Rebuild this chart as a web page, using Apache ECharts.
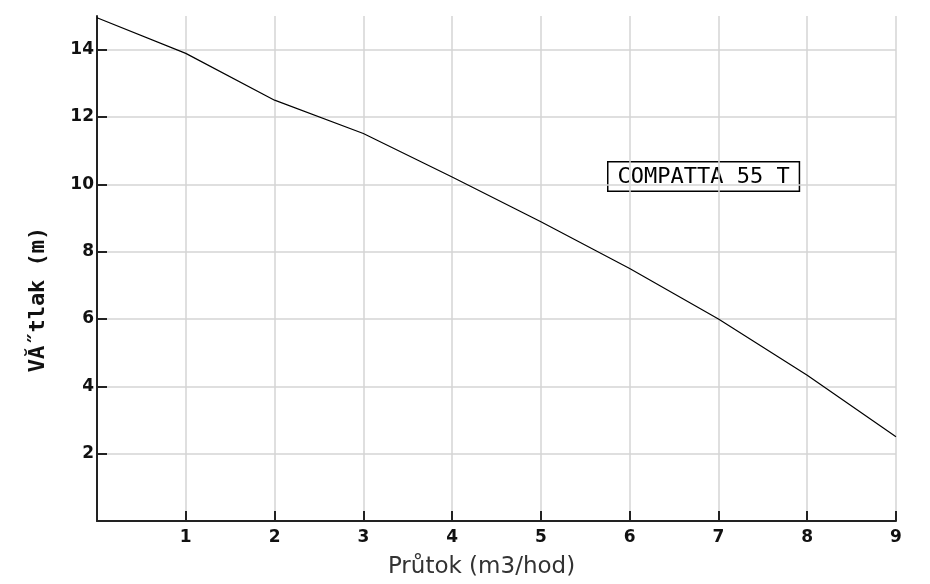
<!DOCTYPE html>
<html>
<head>
    <meta charset="utf-8">
    <title>COMPATTA 55 T</title>
    <script src="https://cdn.jsdelivr.net/npm/echarts@6/dist/echarts.min.js"></script>
    <style>
        html, body { margin: 0; padding: 0; background: #fff; }
    </style>
</head>
<body>
    <div id="main" style="width: 930px;height:584px;"></div>
    <script type="text/javascript">
        // flow (m3/h) and head (m)
        var flow = [0, 1, 2, 3, 4, 5, 6, 7, 8, 9];
        var head = [14.95, 13.89, 12.5, 11.51, 10.22, 8.89, 7.5, 6.0, 4.33, 2.5];
        var pumpName = 'COMPATTA 55 T';

        var myChart = echarts.init(document.getElementById('main'));

        var tickFont = {
            fontFamily: 'DejaVu Sans',
            fontWeight: 'bold',
            fontSize: 17,
            color: '#111'
        };

        option = {
            backgroundColor: '#fff',
            animation: false,
            grid: {
                left: 97,
                right: 34,
                top: 16,
                bottom: 63
            },
            xAxis: {
                type: 'value',
                min: 0,
                max: 9,
                interval: 1,
                name: 'Průtok (m3/hod)',
                nameLocation: 'middle',
                nameGap: 35,
                nameTextStyle: {
                    fontFamily: 'DejaVu Sans',
                    fontSize: 23,
                    color: '#333',
                    padding: [0, 30, 0, 0]
                },
                axisLine: { lineStyle: { color: '#222', width: 2 } },
                axisTick: { inside: true, length: 10, lineStyle: { color: '#222', width: 2 } },
                axisLabel: Object.assign({
                    margin: 8,
                    formatter: function (v) { return v === 0 ? '' : v; }
                }, tickFont),
                splitLine: { lineStyle: { color: '#d4d4d4', width: 1.5 } }
            },
            yAxis: {
                type: 'value',
                min: 0,
                max: 15,
                interval: 2,
                name: 'VĂ˝tlak (m)',
                nameLocation: 'middle',
                nameGap: 48,
                nameRotate: 90,
                nameTextStyle: {
                    fontFamily: 'DejaVu Sans Mono',
                    fontWeight: 'bold',
                    fontSize: 22,
                    color: '#111',
                    padding: [0, 62, 0, 0]
                },
                axisLine: { show: true, lineStyle: { color: '#222', width: 2 } },
                axisTick: { show: true, inside: true, length: 10, lineStyle: { color: '#222', width: 2 } },
                axisLabel: Object.assign({
                    margin: 3,
                    showMaxLabel: false,
                    formatter: function (v) { return v === 0 ? '' : v; }
                }, tickFont),
                splitLine: { showMaxLine: false, lineStyle: { color: '#d4d4d4', width: 1.5 } }
            },
            graphic: [{
                type: 'text',
                left: 607,
                top: 161,
                style: {
                    text: pumpName,
                    fontFamily: 'DejaVu Sans Mono',
                    fontSize: 22,
                    lineHeight: 22,
                    fill: '#000',
                    backgroundColor: '#fff',
                    borderColor: '#000',
                    borderWidth: 1.5,
                    padding: [4, 9, 2, 9]
                }
            }],
            series: [{
                type: 'line',
                showSymbol: false,
                lineStyle: { color: '#000', width: 1.2 },
                data: flow.map(function (x, i) { return [x, head[i]]; })
            }]
        };

        myChart.setOption(option);
    </script>
</body>
</html>
